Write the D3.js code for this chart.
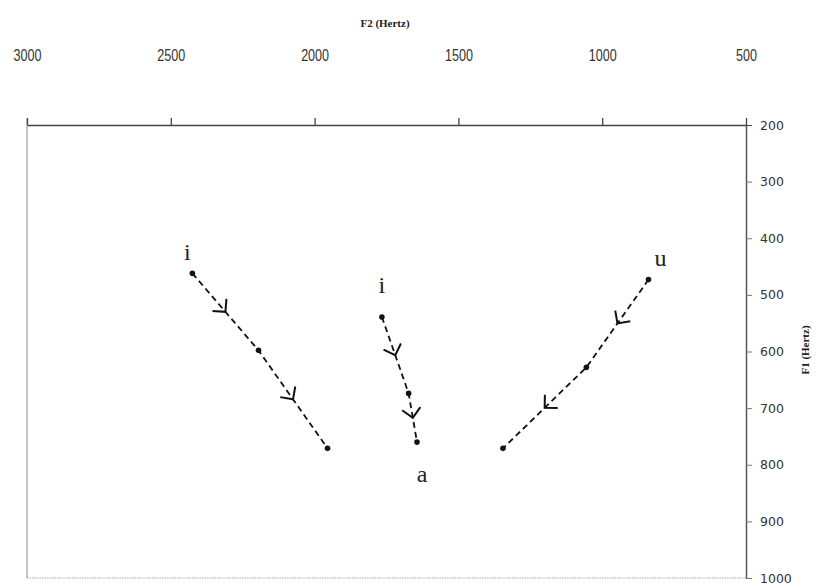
<!DOCTYPE html>
<html>
<head>
<meta charset="utf-8">
<script src="https://cdn.jsdelivr.net/npm/d3@7"></script>
<style>
  html, body { margin: 0; padding: 0; background: #fff; }
  svg { display: block; }
</style>
</head>
<body>
<svg id="chart" width="838" height="584"></svg>
<script>
// Formant trajectories (F2 on the horizontal, F1 on the vertical), three diphthongs
const seriesNames = ["i-a front", "i-a central", "u-a"];
const f2Front   = [2425, 2195, 1955];
const f1Front   = [462, 598, 771];
const f2Central = [1766, 1673, 1644];
const f1Central = [539, 674, 760];
const f2Back    = [839, 1055, 1345];
const f1Back    = [473, 628, 771];
const startLabels = ["i", "i", "u"];
const endLabel = "a";

const f2Ticks = [3000, 2500, 2000, 1500, 1000, 500];
const f1Ticks = [200, 300, 400, 500, 600, 700, 800, 900, 1000];

const series = [
  { name: seriesNames[0], f2: f2Front,   f1: f1Front,   label: startLabels[0], lx: -5,  ly: -13 },
  { name: seriesNames[1], f2: f2Central, f1: f1Central, label: startLabels[1], lx: 0,   ly: -24 },
  { name: seriesNames[2], f2: f2Back,    f1: f1Back,    label: startLabels[2], lx: 12,  ly: -14 }
];

const svg = d3.select("#chart");

const x = d3.scaleLinear().domain([3000, 500]).range([27, 746]);
const y = d3.scaleLinear().domain([200, 1000]).range([125, 578]);

// plot frame: left and bottom edges
svg.append("line")
  .attr("x1", x(3000)).attr("x2", x(3000))
  .attr("y1", y(200) - 7).attr("y2", y(1000))
  .attr("stroke", "#8a8a8a").attr("stroke-width", 1);
svg.append("line")
  .attr("x1", x(3000)).attr("x2", x(500))
  .attr("y1", y(1000)).attr("y2", y(1000))
  .attr("stroke", "#a8a8a8").attr("stroke-width", 1.2)
  .attr("stroke-dasharray", "1.5,1");

// top axis (F2)
const xAxis = svg.append("g")
  .attr("transform", `translate(0,${y(200)})`)
  .call(d3.axisTop(x).tickValues(f2Ticks).tickSize(7).tickPadding(57).tickSizeOuter(0).tickFormat(d3.format("d")));
xAxis.select(".domain").attr("stroke", "#444").attr("stroke-width", 1.5);
xAxis.selectAll(".tick line").attr("stroke", "#444").attr("stroke-width", 1.3);
xAxis.selectAll(".tick text")
  .attr("font-family", "'Liberation Sans Narrow', 'Liberation Sans', Arial, sans-serif")
  .attr("font-size", 17)
  .attr("fill", "#333")
  .attr("transform", "scale(0.74,1)");

// right axis (F1)
const yAxis = svg.append("g")
  .attr("transform", `translate(${x(500)},0)`)
  .call(d3.axisRight(y).tickValues(f1Ticks).tickSize(6).tickPadding(8).tickSizeOuter(0).tickFormat(d3.format("d")));
yAxis.select(".domain").attr("stroke", "#555").attr("stroke-width", 1.5);
yAxis.selectAll(".tick line").attr("stroke", "#777").attr("stroke-width", 1);
yAxis.selectAll(".tick").filter(d => d === 200).select("line").attr("x1", -6).attr("stroke", "#444");
yAxis.selectAll(".tick text")
  .attr("font-family", "'DejaVu Sans', Verdana, sans-serif")
  .attr("font-size", 12.5)
  .attr("fill", "#333");

// axis titles
svg.append("text")
  .attr("x", 385).attr("y", 27)
  .attr("text-anchor", "middle")
  .attr("font-family", "'Liberation Serif', 'Times New Roman', serif")
  .attr("font-weight", "bold")
  .attr("font-size", 11)
  .attr("fill", "#222")
  .text("F2 (Hertz)");
svg.append("text")
  .attr("transform", "translate(809,350) rotate(-90)")
  .attr("text-anchor", "middle")
  .attr("font-family", "'Liberation Serif', 'Times New Roman', serif")
  .attr("font-weight", "bold")
  .attr("font-size", 11)
  .attr("fill", "#222")
  .text("F1 (Hertz)");

// trajectories
const line = d3.line().x(d => x(d[0])).y(d => y(d[1]));
const arm = 13;
const spread = Math.PI / 4;

series.forEach(s => {
  const pts = s.f2.map((v, i) => [v, s.f1[i]]);
  const g = svg.append("g").attr("class", "traj");

  g.append("path")
    .attr("d", line(pts))
    .attr("fill", "none")
    .attr("stroke", "#111")
    .attr("stroke-width", 1.8)
    .attr("stroke-dasharray", "6,4");

  // open chevrons at the middle of each segment, pointing along the movement
  for (let i = 0; i < pts.length - 1; i++) {
    const ax = x(pts[i][0]), ay = y(pts[i][1]);
    const bx = x(pts[i + 1][0]), by = y(pts[i + 1][1]);
    const mx = (ax + bx) / 2, my = (ay + by) / 2;
    const ang = Math.atan2(by - ay, bx - ax);
    const back1 = ang + Math.PI - spread;
    const back2 = ang + Math.PI + spread;
    const p1 = [mx + arm * Math.cos(back1), my + arm * Math.sin(back1)];
    const p2 = [mx + arm * Math.cos(back2), my + arm * Math.sin(back2)];
    g.append("path")
      .attr("d", `M${p1[0]},${p1[1]}L${mx},${my}L${p2[0]},${p2[1]}`)
      .attr("fill", "none")
      .attr("stroke", "#111")
      .attr("stroke-width", 2);
  }

  g.selectAll("circle")
    .data(pts)
    .join("circle")
    .attr("cx", d => x(d[0]))
    .attr("cy", d => y(d[1]))
    .attr("r", 2.8)
    .attr("fill", "#111");

  g.append("text")
    .attr("x", x(pts[0][0]) + s.lx)
    .attr("y", y(pts[0][1]) + s.ly)
    .attr("text-anchor", "middle")
    .attr("font-family", "'Liberation Serif', 'Times New Roman', serif")
    .attr("font-size", 24)
    .attr("fill", "#222")
    .text(s.label);
});

// shared end vowel label under the central trajectory
svg.append("text")
  .attr("x", x(f2Central[2]) + 5)
  .attr("y", y(f1Central[2]) + 40)
  .attr("text-anchor", "middle")
  .attr("font-family", "'Liberation Serif', 'Times New Roman', serif")
  .attr("font-size", 24)
  .attr("fill", "#222")
  .text(endLabel);
</script>
</body>
</html>
